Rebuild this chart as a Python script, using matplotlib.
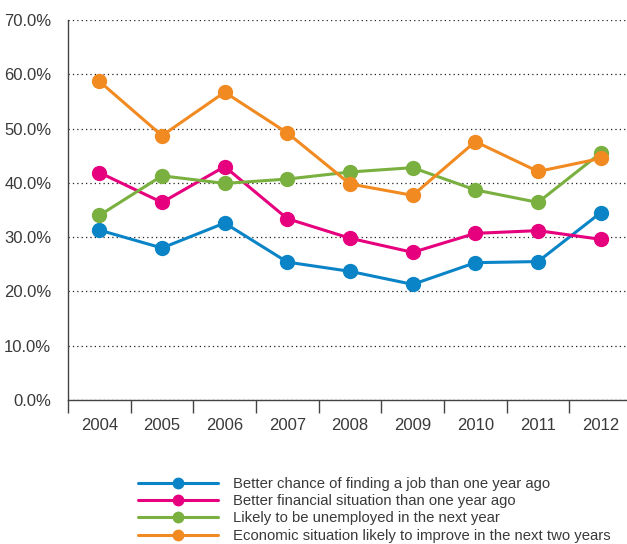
import matplotlib.pyplot as plt
from matplotlib.ticker import FuncFormatter, FixedLocator

plt.rcParams['font.family'] = ['Liberation Sans', 'DejaVu Sans']

years = ["2004", "2005", "2006", "2007", "2008", "2009", "2010", "2011", "2012"]

job_chance = [31.3, 28.0, 32.6, 25.4, 23.7, 21.3, 25.3, 25.5, 34.5]
financial = [41.9, 36.4, 43.0, 33.4, 29.8, 27.2, 30.7, 31.2, 29.6]
unemployed = [34.0, 41.3, 39.9, 40.7, 42.0, 42.8, 38.7, 36.4, 45.5]
economy = [58.7, 48.7, 56.7, 49.2, 39.8, 37.7, 47.6, 42.1, 44.5]

labels = [
    "Better chance of finding a job than one year ago",
    "Better financial situation than one year ago",
    "Likely to be unemployed in the next year",
    "Economic situation likely to improve in the next two years",
]
colors = ["#0a84c6", "#e6007e", "#7ab03f", "#f28a22"]
series = [job_chance, financial, unemployed, economy]

fig = plt.figure(figsize=(6.27, 5.44), dpi=100)
ax = fig.add_axes([68 / 627, 1 - 400 / 544, 1 - 68 / 627, 380 / 544])

x = list(range(len(years)))
for vals, lab, col in zip(series, labels, colors):
    ax.plot(x, vals, color=col, lw=2.2, marker="o", markersize=10,
            label=lab, solid_capstyle="round")

ax.set_ylim(0, 70)
ax.set_xlim(-0.5, 8.42)
ax.set_yticks(range(0, 71, 10))
ax.yaxis.set_major_formatter(FuncFormatter(lambda v, p: f"{v:.1f}%"))
ax.tick_params(axis="y", length=0, pad=12, labelsize=12, labelcolor="#3a3a3a")
ax.grid(axis="y", linestyle=(0, (1, 2.5)), color="#222222", lw=0.9)
ax.set_axisbelow(True)

# category labels between boundary ticks
ax.xaxis.set_major_locator(FixedLocator([i - 0.5 for i in range(len(years))]))
ax.xaxis.set_major_formatter(FuncFormatter(lambda v, p: ""))
ax.xaxis.set_minor_locator(FixedLocator(x))
ax.set_xticklabels(years, minor=True)
ax.tick_params(axis="x", which="major", direction="out", length=9, width=1, color="#444444")
ax.tick_params(axis="x", which="minor", length=0, pad=13, labelsize=12, labelcolor="#3a3a3a")

for s in ["top", "right"]:
    ax.spines[s].set_visible(False)
for s in ["left", "bottom"]:
    ax.spines[s].set_color("#444444")
    ax.spines[s].set_linewidth(1)

handles, labs = ax.get_legend_handles_labels()
fig.legend(handles, labs, loc="upper left", bbox_to_anchor=(132 / 627, 1 - 471 / 544),
           frameon=False, fontsize=10.7, handlelength=5.4, handletextpad=1.0,
           labelspacing=0.22, numpoints=1, markerscale=0.75,
           labelcolor="#3a3a3a", borderaxespad=0)

fig.savefig("out.png", dpi=100)
